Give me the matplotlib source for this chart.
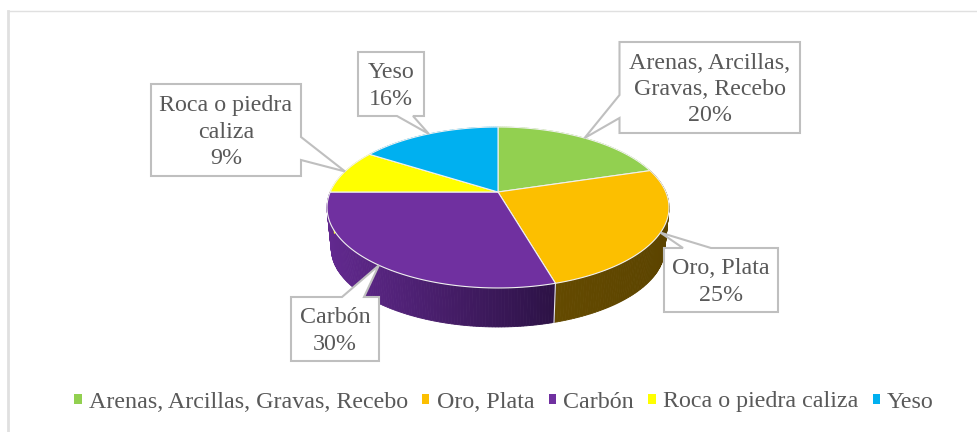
import matplotlib
matplotlib.use('Agg')
import matplotlib.pyplot as plt
from matplotlib.patches import Polygon, Patch
from matplotlib.colors import to_rgb
import numpy as np

plt.rcParams['font.family'] = ['Liberation Serif', 'DejaVu Serif']

labels = ['Arenas, Arcillas, Gravas, Recebo', 'Oro, Plata', 'Carbón', 'Roca o piedra caliza', 'Yeso']
box_labels = ['Arenas, Arcillas,\nGravas, Recebo', 'Oro, Plata', 'Carbón', 'Roca o piedra\ncaliza', 'Yeso']
# the labels are rounded, these are read from the slice edges
values = [20.3, 25.2, 29.5, 9, 16]
colors = ['#92d050', '#fcbf00', '#7030a0', '#ffff00', '#00b0f0']
wall_light = ['#92d050', '#644a00', '#62298f', '#ffff00', '#00b0f0']
wall_dark = ['#92d050', '#5c4400', '#2c1245', '#ffff00', '#00b0f0']

# box: left, right, top, bottom, then the two points where the pointer leaves it
boxes = [
    (619.5, 800, 42, 133, (619.5, 95), (619.5, 118)),
    (664, 778, 248, 312, (683, 248), (711, 248)),
    (291, 379, 297, 361, (342, 297), (364, 297)),
    (151, 301, 84, 176, (301, 137), (301, 160)),
    (358, 424, 52, 116, (397, 116), (413, 116)),
]

TEXT = '#595959'
LINE = '#bfbfbf'
CX, CY = 498, 192
A, B, K = 167.8, 77.5, 0.1925


def rim(t, scale=1.0, drop=0.0):
    # t in radians, clockwise from the top, with the tilt of the 3D view
    x, y = np.sin(t), np.cos(t)
    d = 1 + K * y
    return CX + scale * A * x / d, CY - scale * B * y / d + drop


fig = plt.figure(figsize=(9.77, 4.32), dpi=100)
ax = fig.add_axes([0, 0, 1, 1])
ax.set_xlim(0, 977)
ax.set_ylim(432, 0)
ax.axis('off')

# frame
ax.plot([8, 977], [10.5, 10.5], color='#e0e0e0', lw=1.0, zorder=1)
ax.plot([8, 8], [432, 10.5], color='#e0e0e0', lw=2.0, zorder=1)

edges = np.cumsum([0] + values) / sum(values) * 2 * np.pi

# side wall
for i in range(len(values)):
    steps = np.linspace(edges[i], edges[i + 1], int(values[i] * 4) + 2)
    xs_all = rim(steps)[0]
    for a, b in zip(steps[:-1], steps[1:]):
        ts = np.array([a, b])
        x1, y1 = rim(ts)
        x2, y2 = rim(ts[::-1], 0.975, 41.4)
        lo, hi = xs_all.min(), xs_all.max()
        f = np.clip((x1.mean() - lo) / (hi - lo), 0, 1)
        c = (1 - f) * np.array(to_rgb(wall_light[i])) + f * np.array(to_rgb(wall_dark[i]))
        pts = np.column_stack([np.r_[x1, x2], np.r_[y1, y2]])
        ax.add_patch(Polygon(pts, facecolor=c, edgecolor=c, lw=0.6, zorder=2))

# seam between the two front walls
sx1, sy1 = rim(edges[2])
sx2, sy2 = rim(edges[2], 0.975, 41.4)
ax.plot([sx1, sx2], [sy1, sy2], color='#e8e8e8', lw=0.8, zorder=3)

# top of the pie
for i in range(len(values)):
    ts = np.linspace(edges[i], edges[i + 1], 80)
    x, y = rim(ts)
    pts = np.column_stack([np.r_[CX, x], np.r_[CY, y]])
    ax.add_patch(Polygon(pts, facecolor=colors[i], edgecolor='#f0f0f0', lw=0.8, zorder=4))

# callouts
for i, box in enumerate(boxes):
    l, r, t, b, p1, p2 = box
    tip = rim((edges[i] + edges[i + 1]) / 2)
    if p1[0] == l:
        outline = [(l, t), (r, t), (r, b), (l, b), p2, tip, p1]
    elif p1[1] == t:
        outline = [(l, t), p1, tip, p2, (r, t), (r, b), (l, b)]
    elif p1[0] == r:
        outline = [(l, t), (r, t), p1, tip, p2, (r, b), (l, b)]
    else:
        outline = [(l, t), (r, t), (r, b), p2, tip, p1, (l, b)]
    ax.add_patch(Polygon(outline, closed=True, facecolor='white', edgecolor=LINE, lw=1.5,
                         joinstyle='miter', zorder=5))
    ax.text((l + r) / 2, (t + b) / 2 + 2, f'{box_labels[i]}\n{values[i]:.0f}%', ha='center', va='center',
            fontsize=17.3, color=TEXT, linespacing=1.34, zorder=6)

handles = [Patch(facecolor=c, edgecolor='none') for c in colors]
ax.legend(handles, labels, loc='center', bbox_to_anchor=(504, 402), bbox_transform=ax.transData,
          ncols=5, frameon=False, fontsize=17.3, labelcolor=TEXT, handlelength=0.3, handleheight=0.3,
          handletextpad=0.3, columnspacing=0.6, borderpad=0, borderaxespad=0)

fig.savefig('out.png', dpi=100)
